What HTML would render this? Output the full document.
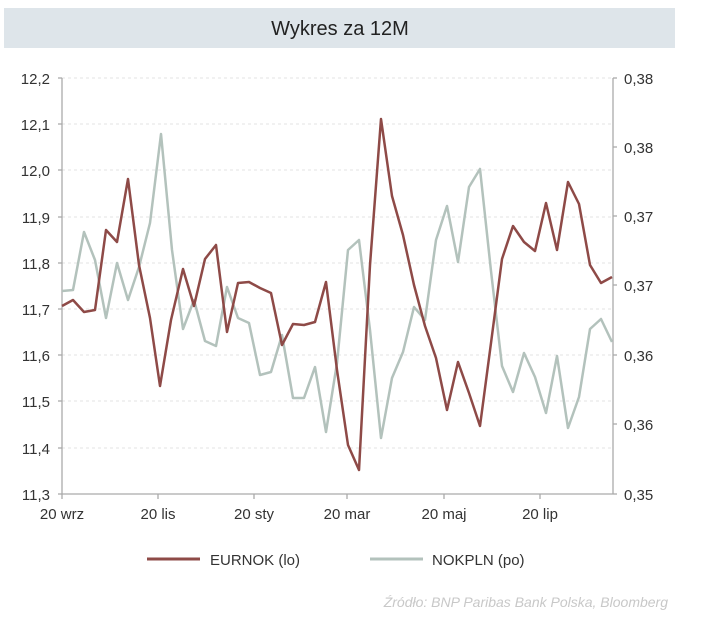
<!DOCTYPE html>
<html><head><meta charset="utf-8"><style>
body{margin:0;background:#fff;width:725px;height:619px;overflow:hidden;font-family:"Liberation Sans",sans-serif;}
</style></head><body>
<svg width="725" height="619" xmlns="http://www.w3.org/2000/svg" font-family="Liberation Sans, sans-serif">
<rect x="4" y="8" width="671" height="40" fill="#dee5ea"/>
<text x="340" y="35" font-size="20" text-anchor="middle" fill="#222">Wykres za 12M</text>
<g stroke="#e3e3e3" stroke-dasharray="3,3" stroke-width="1">
<line x1="62" x2="613" y1="78" y2="78"/><line x1="62" x2="613" y1="124" y2="124"/><line x1="62" x2="613" y1="170" y2="170"/>
<line x1="62" x2="613" y1="217" y2="217"/><line x1="62" x2="613" y1="263" y2="263"/><line x1="62" x2="613" y1="309" y2="309"/>
<line x1="62" x2="613" y1="355" y2="355"/><line x1="62" x2="613" y1="401" y2="401"/><line x1="62" x2="613" y1="448" y2="448"/>
</g>
<g stroke="#aaa" stroke-width="1.3" fill="none">
<line x1="62" y1="78" x2="62" y2="494"/><line x1="613" y1="78" x2="613" y2="494"/><line x1="62" y1="494" x2="613" y2="494"/>
<line x1="58" y1="78" x2="62" y2="78"/><line x1="58" y1="124" x2="62" y2="124"/><line x1="58" y1="170" x2="62" y2="170"/><line x1="58" y1="217" x2="62" y2="217"/><line x1="58" y1="263" x2="62" y2="263"/><line x1="58" y1="309" x2="62" y2="309"/><line x1="58" y1="355" x2="62" y2="355"/><line x1="58" y1="401" x2="62" y2="401"/><line x1="58" y1="448" x2="62" y2="448"/><line x1="58" y1="494" x2="62" y2="494"/>
<line x1="613" y1="78" x2="617" y2="78"/><line x1="613" y1="147" x2="617" y2="147"/><line x1="613" y1="216" x2="617" y2="216"/><line x1="613" y1="285" x2="617" y2="285"/><line x1="613" y1="355" x2="617" y2="355"/><line x1="613" y1="424" x2="617" y2="424"/><line x1="613" y1="494" x2="617" y2="494"/>
<line x1="62" y1="494" x2="62" y2="499"/><line x1="158" y1="494" x2="158" y2="499"/><line x1="254" y1="494" x2="254" y2="499"/><line x1="347" y1="494" x2="347" y2="499"/><line x1="444" y1="494" x2="444" y2="499"/><line x1="540" y1="494" x2="540" y2="499"/>
</g>
<g font-size="15" fill="#333" text-anchor="end">
<text x="50" y="84">12,2</text><text x="50" y="130">12,1</text><text x="50" y="176">12,0</text><text x="50" y="223">11,9</text><text x="50" y="269">11,8</text><text x="50" y="315">11,7</text><text x="50" y="361">11,6</text><text x="50" y="407">11,5</text><text x="50" y="454">11,4</text><text x="50" y="500">11,3</text>
</g>
<g font-size="15" fill="#333">
<text x="624" y="84">0,38</text><text x="624" y="153">0,38</text><text x="624" y="222">0,37</text><text x="624" y="291">0,37</text><text x="624" y="361">0,36</text><text x="624" y="430">0,36</text><text x="624" y="500">0,35</text>
</g>
<g font-size="15" fill="#333" text-anchor="middle">
<text x="62" y="519">20 wrz</text><text x="158" y="519">20 lis</text><text x="254" y="519">20 sty</text><text x="347" y="519">20 mar</text><text x="444" y="519">20 maj</text><text x="540" y="519">20 lip</text>
</g>
<polyline fill="none" stroke="#b3c2bc" stroke-width="2.5" stroke-linejoin="round" points="62,291 73,290 84,232 95,260 106,318 117,263 128,300 139,267 150,223 161,134 172,250 183,329 194,300 205,341 216,346 227,287 238,318 249,323 260,375 271,372 282,335 293,398 304,398 315,367 326,432 337,363 348,250 359,240 370,330 381,438 392,378 403,352 414,307 425,320 436,240 447,206 458,262 469,187 480,169 491,271 502,366 513,392 524,353 535,377 546,413 557,356 568,428 579,397 590,329 601,319 612,342"/>
<polyline fill="none" stroke="#8e4a47" stroke-width="2.5" stroke-linejoin="round" points="62,306 73,300 84,312 95,310 106,230 117,242 128,179 139,265 150,318 160,386 171,320 183,269 194,306 205,259 216,245 227,332 238,283 249,282 260,288 271,293 282,345 293,324 304,325 315,322 326,282 337,370 348,445 359,470 370,265 381,119 392,196 403,235 414,285 425,326 436,358 447,410 458,362 469,393 480,426 491,343 502,259 513,226 524,242 535,251 546,203 557,250 568,182 579,204 590,265 601,283 612,277"/>
<line x1="147" y1="559" x2="200" y2="559" stroke="#8e4a47" stroke-width="3"/>
<text x="210" y="565" font-size="15" fill="#333">EURNOK (lo)</text>
<line x1="370" y1="559" x2="423" y2="559" stroke="#b3c2bc" stroke-width="3"/>
<text x="432" y="565" font-size="15" fill="#333">NOKPLN (po)</text>
<text x="668" y="607" font-size="14" font-style="italic" fill="#c8c8c8" text-anchor="end">Źródło:  BNP Paribas Bank Polska, Bloomberg</text>
</svg>
</body></html>
